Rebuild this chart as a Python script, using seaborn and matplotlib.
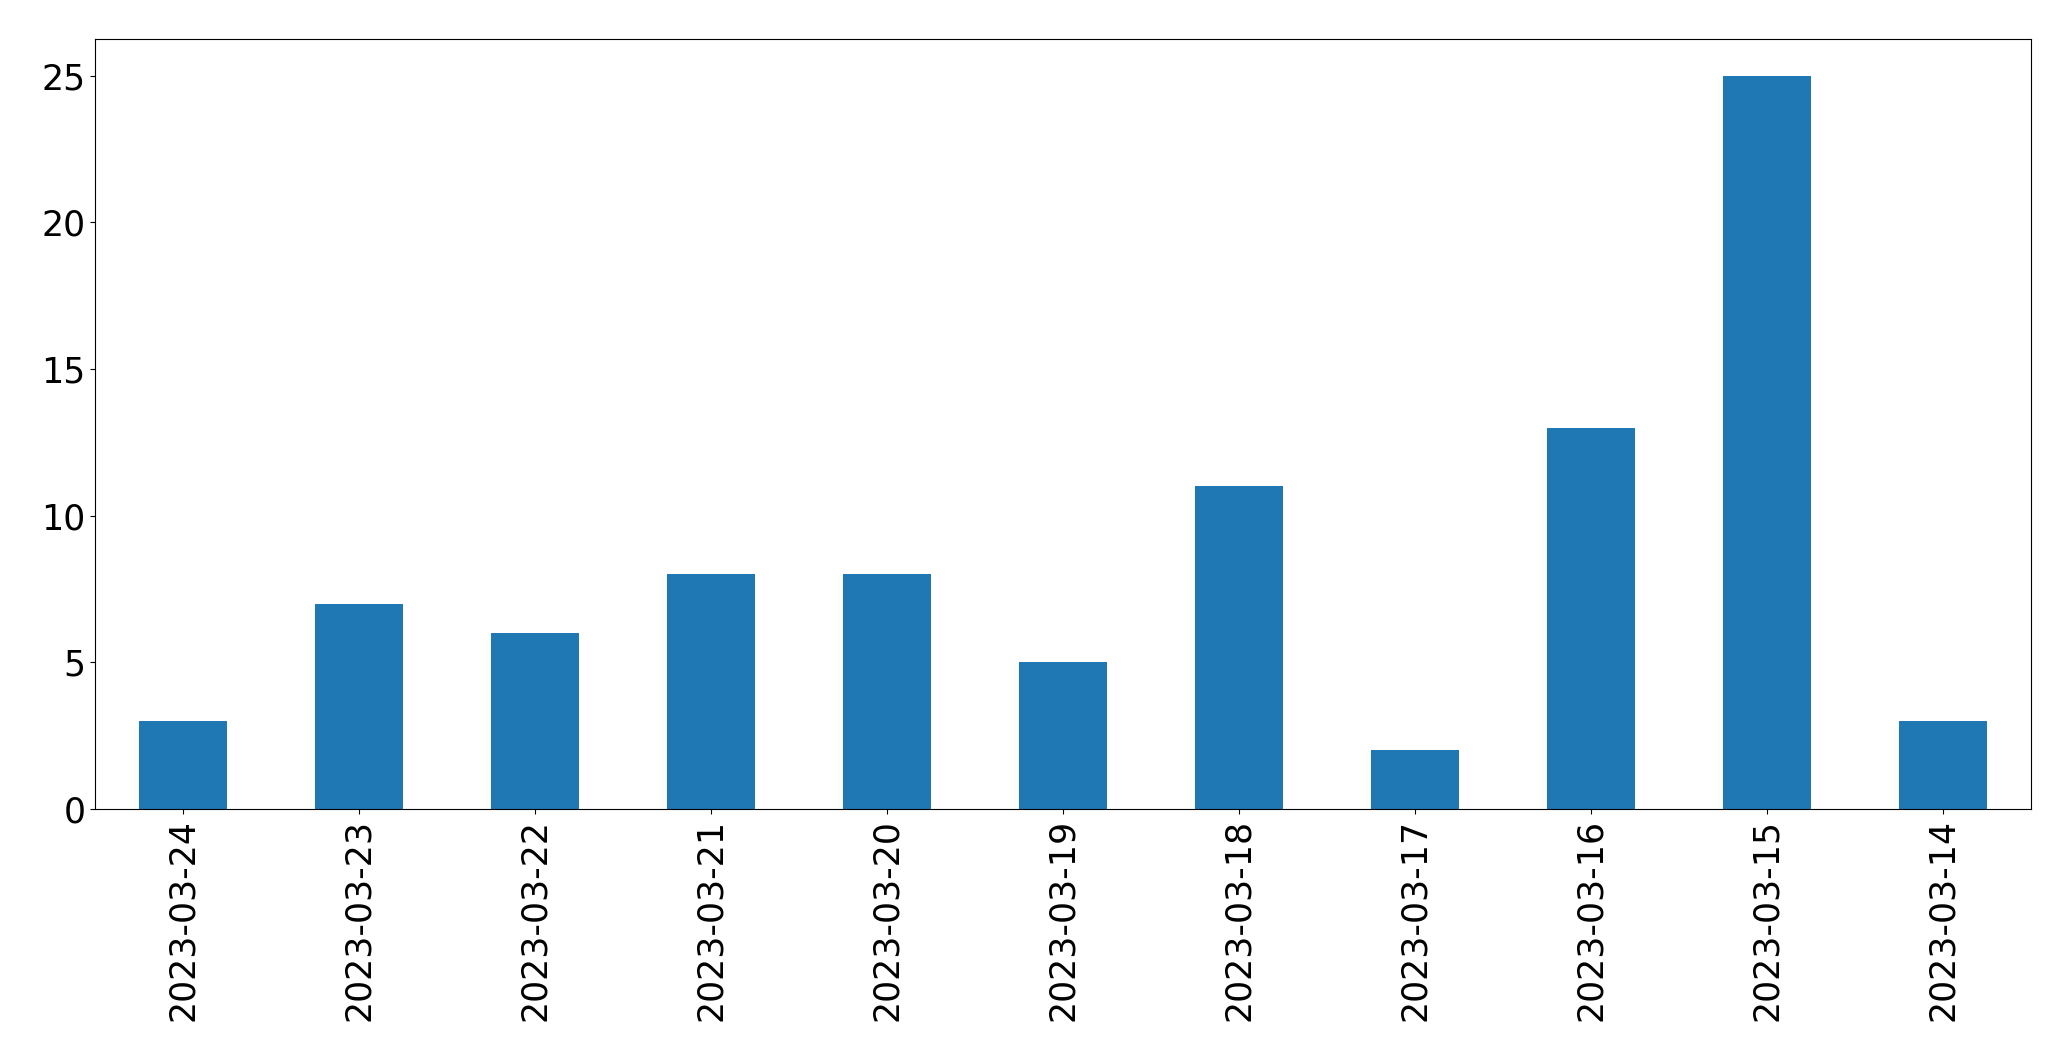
import pandas as pd
import matplotlib
matplotlib.use('Agg')
import matplotlib.pyplot as plt
import seaborn as sns

# Daily counts, in the order shown (newest first)
dates = ['2023-03-24', '2023-03-23', '2023-03-22', '2023-03-21', '2023-03-20',
         '2023-03-19', '2023-03-18', '2023-03-17', '2023-03-16', '2023-03-15',
         '2023-03-14']
counts = [3, 7, 6, 8, 8, 5, 11, 2, 13, 25, 3]

df = pd.DataFrame({'date': dates, 'count': counts})

fig, ax = plt.subplots(figsize=(20.71, 10.61), dpi=100)
fig.subplots_adjust(left=0.0459, right=0.9807, top=0.9632, bottom=0.2375)

sns.barplot(x='date', y='count', data=df, order=dates, color='#1f77b4',
            saturation=1, width=0.5, ax=ax)

ax.set_xlim(-0.5, len(dates) - 0.5)
ax.set_ylim(0, 26.25)
ax.set_xlabel('')
ax.set_ylabel('')
ax.tick_params(axis='both', labelsize=25)
plt.xticks(rotation=90)

plt.savefig('out.png', dpi=100)
